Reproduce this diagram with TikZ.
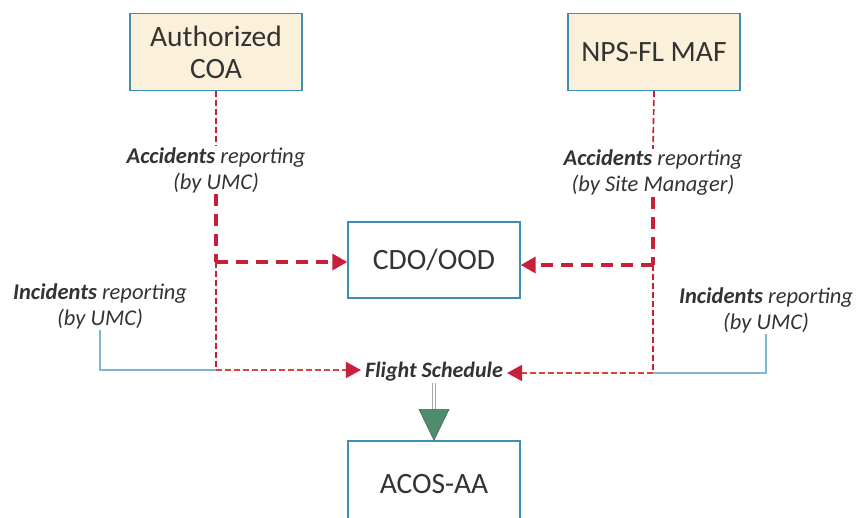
\documentclass[tikz,border=0pt]{standalone}
\usepackage{fontspec}
\setmainfont{Carlito}
\usetikzlibrary{arrows.meta,calc}
\definecolor{boxline}{HTML}{3E8DB3}
\definecolor{boxfill}{HTML}{FBF0DA}
\definecolor{redl}{HTML}{C8203A}
\definecolor{redt}{HTML}{DB4438}
\definecolor{bluel}{HTML}{7DB5D2}
\definecolor{txt}{HTML}{333333}
\definecolor{gfill}{HTML}{4F8C6E}
\definecolor{gdraw}{HTML}{3E6E58}
\tikzset{
  srcbox/.style={draw=boxline, line width=1.4pt, fill=boxfill, minimum width=172pt, minimum height=77pt, align=center, text=txt, font=\fontsize{29.5}{32}\selectfont},
  plainbox/.style={draw=boxline, line width=1.4pt, fill=white, minimum width=172pt, minimum height=76pt, align=center, text=txt, font=\fontsize{29.5}{32}\selectfont},
  lbl/.style={align=center, text=txt, font=\fontsize{22.5}{26}\selectfont\itshape, inner sep=1pt},
  thickdash/.style={draw=redl, line width=3.4pt, dash pattern=on 12pt off 8pt},
  thindash/.style={draw=redl, line width=1.7pt, dash pattern=on 6pt off 3pt},
  thindasho/.style={draw=redt, line width=1.6pt, dash pattern=on 6pt off 3pt},
  bluethin/.style={draw=bluel, line width=1.3pt},
  redtip/.style={-{Triangle[width=16pt,length=15pt,fill=redl,color=redl]}},
}
\begin{document}
\begin{tikzpicture}[x=1pt,y=-1pt]
\useasboundingbox (0,0) rectangle (858,517);
\node[srcbox] (coa) at (216,52) {Authorized\\COA};
\node[srcbox] (nps) at (654,52) {NPS-FL MAF};
\node[plainbox] (cdo) at (434,260) {CDO/OOD};
\node[plainbox, minimum height=86pt] (acos) at (434,484) {ACOS-AA};
\node[lbl] (accL) at (216,170) {\textbf{Accidents} reporting\\(by UMC)};
\node[lbl] (accR) at (653,173) {\textbf{Accidents} reporting\\(by Site Manager)};
\node[lbl] (incL) at (100,306) {\textbf{Incidents} reporting\\(by UMC)};
\node[lbl] (incR) at (766,310) {\textbf{Incidents} reporting\\(by UMC)};
\node[lbl, font=\fontsize{22}{24}\selectfont\bfseries\itshape] (fs) at (434,372) {Flight Schedule};
\coordinate (jL1) at (216,262);
\coordinate (jL2) at (216,370);
\coordinate (jR1) at (653,265);
\coordinate (jR2) at (653,373);
% left chain
\draw[thindash] (coa.south) -- (accL.north);
\draw[thickdash] (accL.south) -- (jL1);
\draw[thickdash, redtip] (jL1) -- (cdo.west |- jL1);
\draw[thindash] (jL1) -- (jL2);
\draw[bluethin] (incL.south) |- (jL2);
\draw[thindasho, redtip] (jL2) -- ([xshift=-3pt]fs.west |- jL2);
% right chain
\draw[thindash] (nps.south) -- (accR.north);
\draw[thickdash] (accR.south) -- (jR1);
\draw[thickdash, redtip] (jR1) -- (cdo.east |- jR1);
\draw[thindash] (jR1) -- (jR2);
\draw[bluethin] (incR.south) |- (jR2);
\draw[thindasho, redtip] (jR2) -- ([xshift=3pt]fs.east |- jR2);
% green arrow
\draw[draw=gray!70, double=white, double distance=2pt, line width=0.8pt] (fs.south) -- ($(acos.north)+(0,-30)$);
\draw[gdraw, line width=0.6pt, fill=gfill] ($(acos.north)+(-15,-31)$) -- ($(acos.north)+(15,-31)$) -- (acos.north) -- cycle;
\end{tikzpicture}
\end{document}
